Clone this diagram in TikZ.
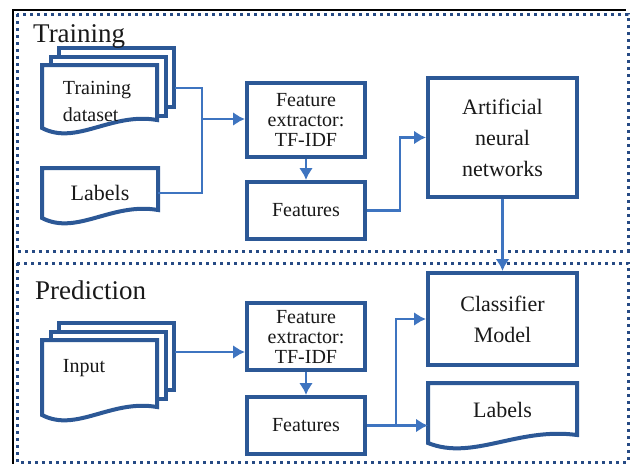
\documentclass[tikz,border=0pt]{standalone}
\usepackage{fontspec}
\setmainfont{Liberation Serif}
\usetikzlibrary{arrows.meta}
\definecolor{boxblue}{RGB}{44,88,150}
\definecolor{linkblue}{RGB}{62,116,192}
\definecolor{dotblue}{RGB}{38,74,132}
\definecolor{inkgray}{RGB}{25,25,25}
\tikzstyle{stagebox}=[draw=dotblue, line width=3pt, dash pattern=on 3pt off 4pt]
\tikzstyle{stagelabel}=[anchor=base west, inner sep=0pt, text=inkgray, font=\fontsize{27}{27}\selectfont]
\tikzstyle{process}=[rectangle, draw=boxblue, fill=white, line width=4pt, align=center, text=inkgray, font=\fontsize{22}{31}\selectfont]
\tikzstyle{extract}=[process, font=\fontsize{20}{20}\selectfont]
\tikzstyle{doc}=[rectangle, outer sep=0pt, inner xsep=21pt, inner ysep=0pt, align=left, text=inkgray, font=\fontsize{20}{27}\selectfont]
\tikzstyle{docline}=[draw=boxblue, fill=white, line width=4pt]
\tikzstyle{backpage}=[docline]
\tikzstyle{wire}=[-, draw=linkblue, line width=2.5pt]
\tikzstyle{arrowwire}=[wire, -{Latex[length=12pt,width=14pt]}]
\pgfdeclarelayer{edgelayer}
\pgfdeclarelayer{nodelayer}
\pgfsetlayers{edgelayer,nodelayer,main}
% outline of a document: node, drop of the wave base, width
\newcommand{\docoutline}[3]{%
	\draw [style=docline] (#1.north west) -- (#1.north east)
		-- ([yshift={(8-(#2))*1pt}]#1.south east)
		.. controls +(-0.4*#3,-8) and +(0.3*#3,18) .. ([yshift={-(#2)*1pt}]#1.south west) -- cycle;}

\begin{document}
\begin{tikzpicture}[x=1pt,y=-1pt]
	\useasboundingbox (0,0) rectangle (633,464);
	\begin{pgfonlayer}{nodelayer}
		\node [style=stagelabel] (0) at (33, 42) {Training};
		\node [style=stagelabel] (1) at (35, 299) {Prediction};
		\node [style=extract, minimum width=118pt, minimum height=74pt] (2) at (306, 120) {Feature\\extractor:\\TF-IDF};
		\node [style=extract, minimum width=118pt, minimum height=57pt] (3) at (306, 210.5) {Features};
		\node [style=process, minimum width=149pt, minimum height=119pt] (4) at (502.5, 137.5) {Artificial\\neural\\networks};
		\node [style=process, minimum width=149pt, minimum height=92pt] (5) at (502.5, 319) {Classifier\\Model};
		\node [style=extract, minimum width=118pt, minimum height=67pt] (6) at (306, 336.5) {Feature\\extractor:\\TF-IDF};
		\node [style=extract, minimum width=118pt, minimum height=57pt] (7) at (306, 425.5) {Features};
		\node [style=doc, minimum width=115pt, minimum height=72pt, text width=73pt] (8) at (99.5, 101) {Training\\dataset};
		\node [style=doc, minimum width=116pt, minimum height=50pt, text width=74pt, align=center, font=\fontsize{22}{27}\selectfont] (9) at (100, 193) {Labels};
		\node [style=doc, minimum width=115pt, minimum height=56pt, text width=73pt] (10) at (99.5, 368) {Input};
		\node [style=doc, minimum width=149pt, minimum height=54pt, text width=107pt, align=center, font=\fontsize{22}{27}\selectfont] (11) at (502.5, 410) {Labels};
		\coordinate (12) at (174.5, 88);
		\coordinate (13) at (174.5, 352);
		\coordinate (14) at (202, 119);
		\coordinate (15) at (400, 137.5);
		\coordinate (16) at (396, 425.5);
	\end{pgfonlayer}
	\begin{pgfonlayer}{edgelayer}
		\draw [line width=1.5pt] (13, 464) -- (13, 10) -- (626, 10);
		\draw [style=stagebox] (17, 14) rectangle (628, 251);
		\draw [style=stagebox] (17, 263) rectangle (628, 462);
		\foreach \s in {17,8.5}
			\draw [style=backpage] (42+\s, 65-\s) rectangle (157+\s, 124-\s);
		\foreach \s in {17,8.5}
			\draw [style=backpage] (42+\s, 340-\s) rectangle (157+\s, 407-\s);
		\docoutline{8}{-9}{115}
		\docoutline{9}{0}{116}
		\docoutline{10}{19}{115}
		\docoutline{11}{6}{149}
		\draw [style=wire] (12) -| (14) |- (9);
		\draw [style=arrowwire] (14) -- (14 -| 2.west);
		\draw [style=arrowwire] (2) -- (3);
		\draw [style=arrowwire] (3) -| (15) -- (4);
		\draw [style=arrowwire] (4) -- (5);
		\draw [style=arrowwire] (13) -- (13 -| 6.west);
		\draw [style=arrowwire] (6) -- (7);
		\draw [style=arrowwire] (7) -- (7 -| 11.west);
		\draw [style=arrowwire] (16) |- (5);
	\end{pgfonlayer}
\end{tikzpicture}
\end{document}
